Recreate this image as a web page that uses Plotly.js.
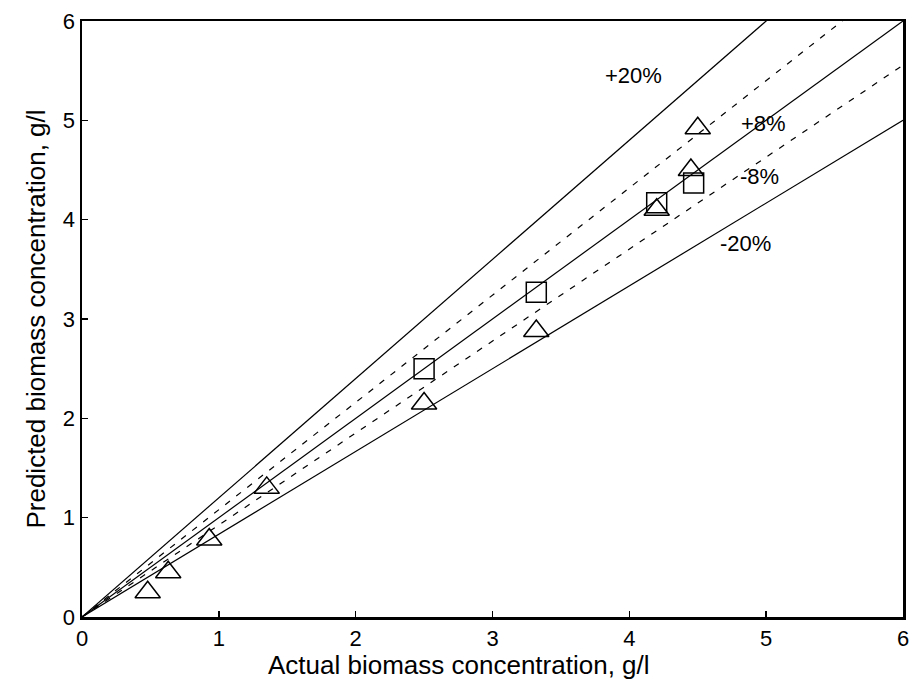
<!DOCTYPE html>
<html><head><meta charset="utf-8">
<script src="https://cdn.plot.ly/plotly-3.0.1.min.js"></script>
<style>body{margin:0;background:#fff}#plot{width:913px;height:684px}</style>
</head><body><div id="plot"></div>
<script>
// reference band lines: slopes (predicted = actual * factor)
const lineFactors = [1.2, 1.0, 1 / 1.2];
const dashFactors = [1.08, 1 / 1.08];
const lineX = [0, 6];
// data: triangles
const triX = [0.48, 0.63, 0.93, 1.35, 2.5, 3.32, 4.2, 4.45, 4.5];
const triY = [0.25, 0.45, 0.78, 1.3, 2.15, 2.88, 4.1, 4.5, 4.92];
// data: squares
const sqX = [2.5, 3.32, 4.2, 4.47];
const sqY = [2.5, 3.27, 4.17, 4.37];
// labels
const bandLabels = ['+20%', '+8%', '-8%', '-20%'];
const labelX = [4.03, 4.98, 4.95, 4.85];
const labelY = [5.45, 4.97, 4.43, 3.76];
const tickVals = [0, 1, 2, 3, 4, 5, 6];
const xTitle = 'Actual biomass concentration, g/l';
const yTitle = 'Predicted biomass concentration, g/l';

const FONT = 'Liberation Sans, Arial, Helvetica, sans-serif';
const traces = [];
lineFactors.forEach(f => traces.push({x: lineX, y: lineX.map(v => v * f), mode: 'lines',
  line: {color: '#000', width: 1.2}, hoverinfo: 'skip', showlegend: false}));
dashFactors.forEach(f => traces.push({x: lineX, y: lineX.map(v => v * f), mode: 'lines',
  line: {color: '#000', width: 1.2, dash: '6px,8px'}, hoverinfo: 'skip', showlegend: false}));
traces.push({x: triX, y: triY, mode: 'markers', showlegend: false,
  marker: {symbol: 'triangle-up-open', size: 22, color: '#000', line: {width: 1.5, color: '#000'}}});
traces.push({x: sqX, y: sqY, mode: 'markers', showlegend: false,
  marker: {symbol: 'square-open', size: 20, color: '#000', line: {width: 1.5, color: '#000'}}});

const annotations = bandLabels.map((t, i) => ({x: labelX[i], y: labelY[i], text: t, showarrow: false,
  font: {family: FONT, size: 22, color: '#000'}}));
annotations.push({xref: 'paper', yref: 'paper', x: 0.459, y: -0.081, text: xTitle, showarrow: false,
  xanchor: 'center', yanchor: 'middle', font: {family: FONT, size: 26, color: '#000'}});

const axisCommon = {range: [0, 6], tickvals: tickVals, ticks: 'inside', ticklen: 6, tickwidth: 1.5,
  tickcolor: '#000', showline: true, linecolor: '#000', linewidth: 2.5, mirror: true,
  showgrid: false, zeroline: false,
  tickfont: {family: FONT, size: 22, color: '#000'}};

const layout = {
  width: 913, height: 684,
  margin: {l: 82, r: 10, t: 21, b: 67},
  paper_bgcolor: '#fff', plot_bgcolor: '#fff',
  xaxis: Object.assign({}, axisCommon, {ticklabelstandoff: 0}),
  yaxis: Object.assign({}, axisCommon, {title: {text: yTitle, standoff: 10,
    font: {family: FONT, size: 26, color: '#000'}}}),
  annotations: annotations
};
Plotly.newPlot('plot', traces, layout, {displayModeBar: false, staticPlot: true});
</script></body></html>
